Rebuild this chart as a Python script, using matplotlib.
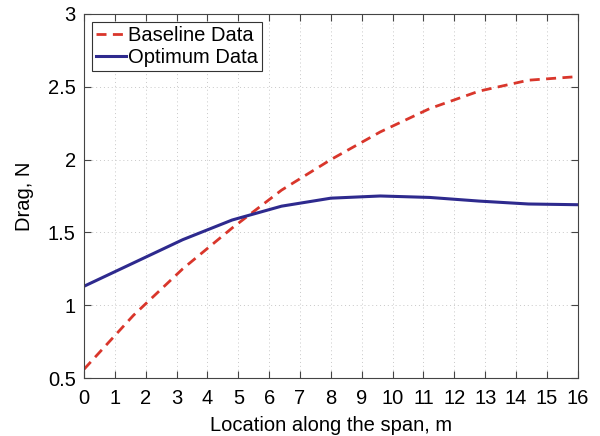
import numpy as np
import matplotlib.pyplot as plt

plt.rcParams['font.family'] = ['Liberation Sans', 'DejaVu Sans']

# spanwise stations and drag values
span = [0, 1.6, 3.2, 4.8, 6.4, 8.0, 9.6, 11.2, 12.8, 14.4, 16.0]
baseline = [0.56, 0.93, 1.25, 1.53, 1.79, 2.00, 2.19, 2.35, 2.47, 2.545, 2.57]
optimum = [1.13, 1.29, 1.45, 1.585, 1.68, 1.735, 1.75, 1.74, 1.715, 1.695, 1.69]

fig = plt.figure(figsize=(6, 4.36), dpi=100)
ax = fig.add_axes([0.14, 0.133, 0.823, 0.835])

ax.plot(span, baseline, '--', color='#d9362b', lw=2.0, dashes=(3.6, 2.3), label='Baseline Data')
ax.plot(span, optimum, '-', color='#2e2a8e', lw=2.2, label='Optimum Data')

ax.set_xlim(0, 16)
ax.set_ylim(0.5, 3)
ax.set_xticks(np.arange(0, 17, 1))
ax.set_yticks([0.5, 1, 1.5, 2, 2.5, 3])
ax.set_yticklabels(['0.5', '1', '1.5', '2', '2.5', '3'])
ax.tick_params(direction='in', top=True, right=True, labelsize=14.5, length=5,
               color='#444444')
ax.tick_params(axis='x', pad=8)
ax.tick_params(axis='y', pad=6)
ax.grid(True, ls=(0, (1, 3)), color='#c8c8c8', lw=0.7)
for s in ax.spines.values():
    s.set_color('#444444')

ax.set_xlabel('Location along the span, m', fontsize=14.5, labelpad=6)
ax.set_ylabel('Drag, N', fontsize=14.5, labelpad=10)

leg = ax.legend(loc='upper left', fontsize=14.5, fancybox=False, framealpha=1,
                edgecolor='#333333', handlelength=1.5, handletextpad=0.1,
                borderpad=0.2, labelspacing=0.15, borderaxespad=0.4)
leg.get_frame().set_linewidth(0.8)

fig.savefig('out.png', dpi=100)
